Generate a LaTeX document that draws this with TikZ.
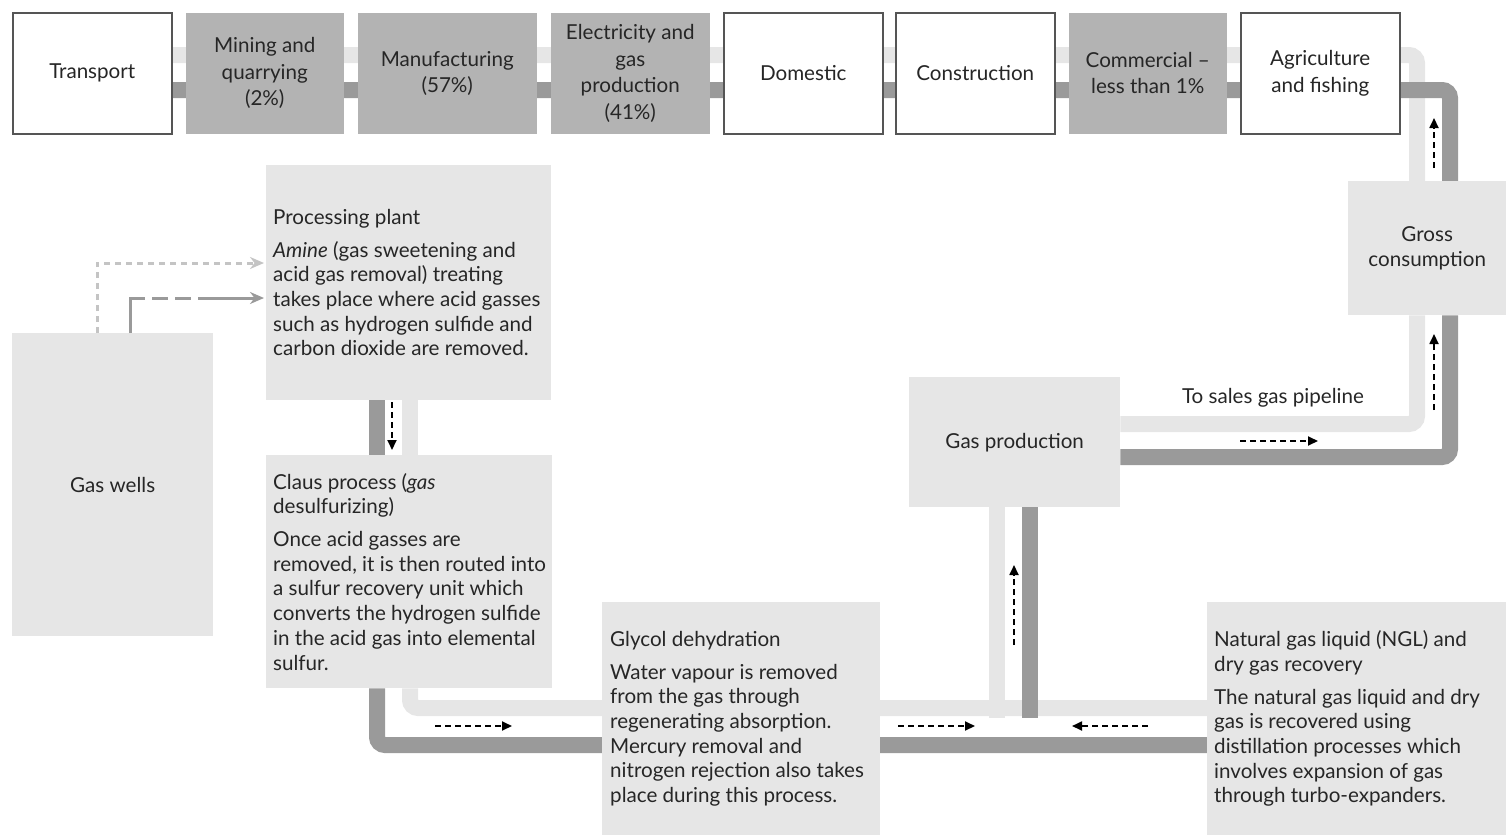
\documentclass[tikz,border=0pt]{standalone}
\usepackage{fontspec}
\setmainfont{Lato}
\usetikzlibrary{arrows.meta,calc}
\pgfdeclarelayer{bg}
\pgfsetlayers{bg,main}
\definecolor{dpipe}{HTML}{9A9A9A}
\definecolor{lpipe}{HTML}{E6E6E6}
\definecolor{gboxc}{HTML}{B3B3B3}
\definecolor{lboxc}{HTML}{E6E6E6}
\definecolor{bord}{HTML}{555555}
\definecolor{txt}{HTML}{262626}
\definecolor{larrow}{HTML}{C4C4C4}
\begin{document}
\begin{tikzpicture}[x=1pt,y=-1pt,
  every node/.style={text=txt,font=\fontsize{20.6}{24.7}\selectfont},
  topw/.style={draw=bord,line width=1.5pt,fill=white,minimum height=121pt,anchor=north west,align=center,inner sep=0pt,font=\fontsize{20.6}{26.5}\selectfont},
  topg/.style={topw,draw=none,fill=gboxc},
  lbox/.style={fill=lboxc,anchor=north west,inner sep=0pt,align=center},
  btext/.style={anchor=west,align=left,inner sep=0pt},
  lp/.style={draw=lpipe,line width=16pt,rounded corners=8pt},
  dp/.style={draw=dpipe,line width=16pt,rounded corners=8pt},
  darr/.style={draw=black,line width=1.8pt,dash pattern=on 6pt off 4pt,-{Triangle[length=10pt,width=9pt]}}
]
\useasboundingbox (0,0) rectangle (1506,835);
% top row
\node[topw,minimum width=159pt] (transport) at (12,12) {Transport};
\node[topg,minimum width=158pt] (mining) at (185,12) {Mining and\\quarrying\\(2\%)};
\node[topg,minimum width=179pt] (manuf) at (357,12) {Manufacturing\\(57\%)};
\node[topg,minimum width=159pt] (elec) at (550,12) {Electricity and\\gas\\production\\(41\%)};
\node[topw,minimum width=159pt] (dom) at (723,12) {Domestic};
\node[topw,minimum width=159pt] (cons) at (895,12) {Construction};
\node[topg,minimum width=158pt] (comm) at (1068,12) {Commercial –\\less than 1\%};
\node[topw,minimum width=159pt] (agri) at (1240,12) {Agriculture\\and fishing};
% light boxes
\node[lbox,minimum width=201pt,minimum height=303pt] (wells) at (12,333) {Gas wells};
\node[lbox,minimum width=158pt,minimum height=134pt] (gross) at (1348,181) {Gross\\consumption};
\node[lbox,minimum width=211pt,minimum height=130pt] (gasprod) at (909,377) {Gas production};
\node[lbox,minimum width=285pt,minimum height=235pt] (proc) at (266,165) {};
\node[btext] (proctxt) at ([xshift=7pt]proc.west) {Processing plant\\[8pt]\textit{Amine} (gas sweetening and\\acid gas removal) treating\\takes place where acid gasses\\such as hydrogen sulfide and\\carbon dioxide are removed.};
\node[lbox,minimum width=286pt,minimum height=233pt] (claus) at (266,455) {};
\node[btext] (claustxt) at ([xshift=7pt]claus.west) {Claus process (\textit{gas}\\desulfurizing)\\[8pt]Once acid gasses are\\removed, it is then routed into\\a sulfur recovery unit which\\converts the hydrogen sulfide\\in the acid gas into elemental\\sulfur.};
\node[lbox,minimum width=278pt,minimum height=233pt] (glycol) at (602,602) {};
\node[btext] (glycoltxt) at ([xshift=8pt]glycol.west) {Glycol dehydration\\[8pt]Water vapour is removed\\from the gas through\\regenerating absorption.\\Mercury removal and\\nitrogen rejection also takes\\place during this process.};
\node[lbox,minimum width=299pt,minimum height=233pt] (ngl) at (1207,602) {};
\node[btext] (ngltxt) at ([xshift=7pt]ngl.west) {Natural gas liquid (NGL) and\\dry gas recovery\\[8pt]The natural gas liquid and dry\\gas is recovered using\\distillation processes which\\involves expansion of gas\\through turbo-expanders.};
\node (sales) at (1273,398) {To sales gas pipeline};
% pipes
\begin{pgfonlayer}{bg}
\draw[lp] ($(transport.north)+(0,43)$) -| ($(gross.north west)+(69,0)$);
\draw[dp] ($(transport.north)+(0,78)$) -| ($(gross.north west)+(102,0)$);
\draw[lp] ($(gross.south west)+(69,0)$) |- ($(gasprod.north east)+(0,47)$);
\draw[dp] ($(gross.south west)+(102,0)$) |- ($(gasprod.north east)+(0,80)$);
\draw[lp] ($(claus.south west)+(144,0)$) |- ($(ngl.north west)+(0,106)$);
\draw[lp] ($(gasprod.south west)+(88,0)$) -- ($(gasprod.south west)+(88,211)$);
\draw[dp] ($(gasprod.south west)+(121,0)$) -- ($(gasprod.south west)+(121,211)$);
\draw[dp] ($(claus.south west)+(111,0)$) |- ($(ngl.north west)+(0,143)$);
\draw[lp] ($(proc.south west)+(144,0)$) -- ($(claus.north west)+(144,0)$);
\draw[dp] ($(proc.south west)+(111,0)$) -- ($(claus.north west)+(111,0)$);
\end{pgfonlayer}
% gas wells feeds
\draw[larrow,line width=3pt,dash pattern=on 6pt off 5pt,-{Stealth[length=14pt,width=12pt]}]
  ($(wells.north west)+(85,0)$) |- ($(proc.north west)+(-2,98)$);
\draw[dpipe,line width=3pt,dash pattern=on 50pt off 7pt on 16pt off 7pt on 16pt off 7pt on 80pt,-{Stealth[length=14pt,width=12pt]}]
  ($(wells.north west)+(118,0)$) |- ($(proc.north west)+(-2,133)$);
% flow direction arrows
\coordinate (a1s) at (1434,168); \coordinate (a1e) at (1434,118);
\coordinate (a2s) at (1434,410); \coordinate (a2e) at (1434,334);
\coordinate (a3s) at (1240,441); \coordinate (a3e) at (1318,441);
\coordinate (a4s) at (1014,645); \coordinate (a4e) at (1014,565);
\coordinate (a5s) at (435,726);  \coordinate (a5e) at (512,726);
\coordinate (a6s) at (898,726);  \coordinate (a6e) at (975,726);
\coordinate (a7s) at (1148,726); \coordinate (a7e) at (1072,726);
\coordinate (a8s) at (392,402);  \coordinate (a8e) at (392,450);
\foreach \i in {1,...,8} {\draw[darr] (a\i s) -- (a\i e);}
\end{tikzpicture}
\end{document}
